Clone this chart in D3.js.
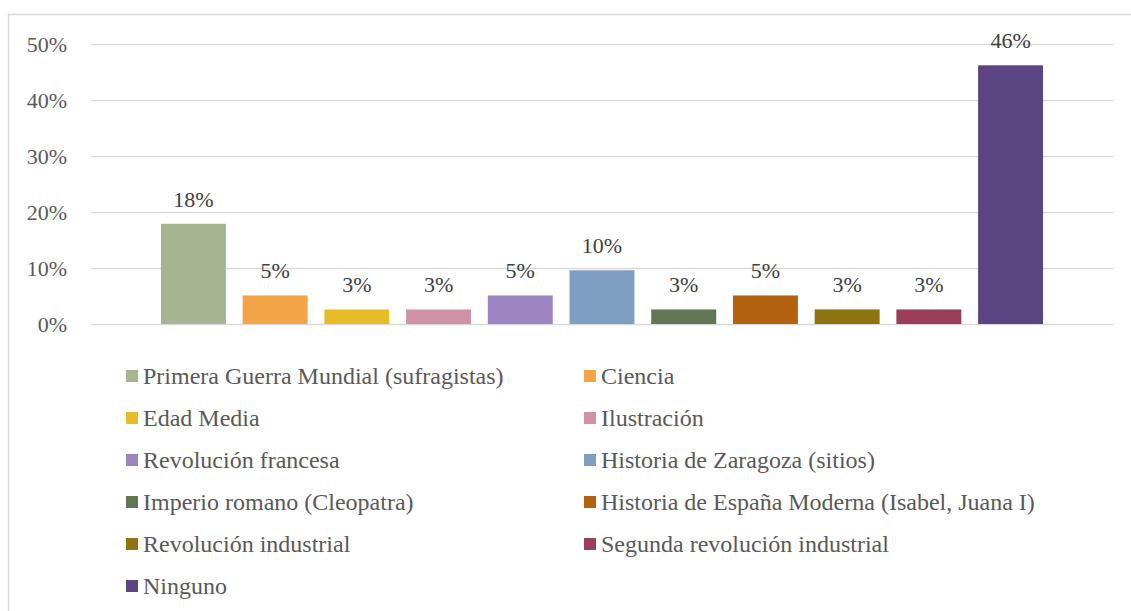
<!DOCTYPE html>
<html>
<head>
<meta charset="utf-8">
<script src="https://cdn.jsdelivr.net/npm/d3@7"></script>
<style>
  html, body { margin: 0; padding: 0; background: #fff; }
  svg { display: block; }
</style>
</head>
<body>
<svg id="chart" width="1131" height="611"></svg>
<script>
// Topics and their share of responses
const categories = [
  "Primera Guerra Mundial (sufragistas)",
  "Ciencia",
  "Edad Media",
  "Ilustración",
  "Revolución francesa",
  "Historia de Zaragoza (sitios)",
  "Imperio romano (Cleopatra)",
  "Historia de España Moderna (Isabel, Juana I)",
  "Revolución industrial",
  "Segunda revolución industrial",
  "Ninguno"
];
const values = [0.179, 0.051, 0.026, 0.026, 0.051, 0.096, 0.026, 0.051, 0.026, 0.026, 0.462];
const colors = [
  "#a5b592", "#f3a447", "#e7bc29", "#d092a7", "#9c85c0", "#809ec2",
  "#637652", "#b3620f", "#8e730e", "#9b3e5a", "#5b4482"
];
const yTicks = [0, 0.1, 0.2, 0.3, 0.4, 0.5];

const FONT = "Liberation Serif";
const svg = d3.select("#chart");

// Chart area frame (top and left edges visible)
svg.append("rect")
  .attr("x", 8.5).attr("y", 14.5)
  .attr("width", 1140).attr("height", 620)
  .attr("fill", "none").attr("stroke", "#d9d9d9").attr("stroke-width", 1.5);

const plot = { left: 91, right: 1113, top: 44, bottom: 324 };

const y = d3.scaleLinear().domain([0, 0.5]).range([plot.bottom, plot.top]);
const x = d3.scaleBand()
  .domain(categories)
  .range([plot.left, plot.right])
  .paddingInner(0.205)
  .paddingOuter(0.856);

const pct = d3.format(".0%");

// Gridlines and y tick labels
const yAxis = d3.axisLeft(y).tickValues(yTicks).tickFormat(pct)
  .tickSize(-(plot.right - plot.left)).tickPadding(24);
const gy = svg.append("g").attr("transform", `translate(${plot.left},0)`).call(yAxis);
gy.attr("font-family", FONT).attr("font-size", 22);
gy.select(".domain").remove();
gy.selectAll(".tick line").attr("stroke", "#d9d9d9").attr("stroke-width", 1.5);
gy.selectAll(".tick text")
  .attr("fill", "#595959")
  .attr("font-family", FONT)
  .attr("font-size", 22);

// Bars
svg.append("g").selectAll("rect")
  .data(categories)
  .join("rect")
  .attr("x", d => x(d))
  .attr("y", (d, i) => y(values[i]))
  .attr("width", x.bandwidth())
  .attr("height", (d, i) => y(0) - y(values[i]))
  .attr("fill", (d, i) => colors[i]);

// Value labels above bars
svg.append("g").selectAll("text")
  .data(categories)
  .join("text")
  .attr("x", d => x(d) + x.bandwidth() / 2)
  .attr("y", (d, i) => y(values[i]) - 17)
  .attr("text-anchor", "middle")
  .attr("fill", "#404040")
  .attr("font-family", FONT)
  .attr("font-size", 22)
  .text((d, i) => pct(values[i]));

// Legend in two columns
const colX = [126, 584];
const rowY0 = 376, rowGap = 42;
const legend = svg.append("g").selectAll("g")
  .data(categories)
  .join("g")
  .attr("transform", (d, i) => `translate(${colX[i % 2]},${rowY0 + Math.floor(i / 2) * rowGap})`);
legend.append("rect")
  .attr("x", 0).attr("y", -6)
  .attr("width", 12).attr("height", 12)
  .attr("fill", (d, i) => colors[i]);
legend.append("text")
  .attr("x", 17).attr("y", 0)
  .attr("dy", "0.33em")
  .attr("fill", "#595959")
  .attr("font-family", FONT)
  .attr("font-size", 24)
  .text(d => d);
</script>
</body>
</html>
